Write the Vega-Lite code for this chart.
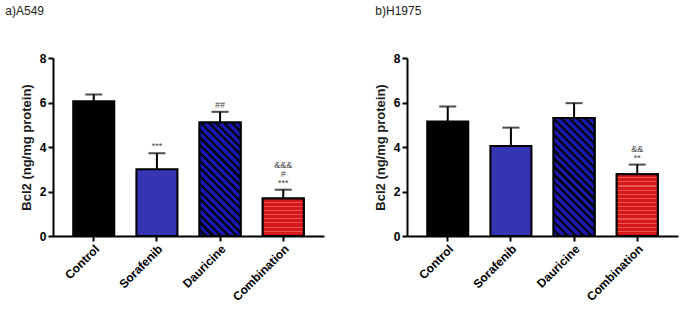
{
  "$schema": "https://vega.github.io/schema/vega-lite/v6.json",
  "background": "white",
  "padding": 5,
  "spacing": 50,
  "config": {
    "view": {"stroke": null},
    "font": "Liberation Sans",
    "axis": {
      "domainColor": "black",
      "domainWidth": 2,
      "tickColor": "black",
      "tickWidth": 2,
      "tickSize": 5,
      "labelPadding": 2,
      "labelColor": "black",
      "labelFont": "Liberation Sans",
      "labelFontWeight": "bold",
      "titleFont": "Liberation Sans",
      "titleFontWeight": "bold",
      "titleColor": "#1a1a1a",
      "titleFontSize": 13,
      "grid": false
    }
  },
  "datasets": {
    "a549": [
      {"group": "Control", "value": 6.06, "upper": 6.36, "s1": "", "s2": "", "s3": ""},
      {"group": "Sorafenib", "value": 3.0, "upper": 3.72, "s1": "***", "s2": "", "s3": ""},
      {"group": "Dauricine", "value": 5.1, "upper": 5.58, "s1": "##", "s2": "", "s3": ""},
      {"group": "Combination", "value": 1.69, "upper": 2.08, "s1": "***", "s2": "#", "s3": "&&&"}
    ],
    "h1975": [
      {"group": "Control", "value": 5.15, "upper": 5.82, "s1": "", "s2": "", "s3": ""},
      {"group": "Sorafenib", "value": 4.04, "upper": 4.87, "s1": "", "s2": "", "s3": ""},
      {"group": "Dauricine", "value": 5.3, "upper": 5.97, "s1": "", "s2": "", "s3": ""},
      {"group": "Combination", "value": 2.78, "upper": 3.21, "s1": "**", "s2": "&&", "s3": ""}
    ]
  },
  "hconcat": [
    {
      "title": {"text": "a)A549", "anchor": "start", "frame": "bounds", "fontSize": 12, "fontWeight": "normal", "font": "Liberation Sans", "color": "#222222", "dx": -15, "offset": 34},
      "width": 271,
      "height": 178,
      "data": {"name": "a549"},
      "encoding": {
        "x": {
          "field": "group", "type": "nominal", "sort": null,
          "scale": {"paddingInner": 0.35, "paddingOuter": 0.32},
          "axis": {"title": null, "labelAngle": -45, "labelFontSize": 12}
        }
      },
      "layer": [
        {
          "mark": {"type": "bar", "stroke": "black", "strokeWidth": 2},
          "encoding": {
            "y": {"field": "value", "type": "quantitative", "scale": {"domain": [0, 8]},
              "axis": {"title": "Bcl2 (ng/mg protein)", "values": [0, 2, 4, 6, 8], "labelFontSize": 12, "titlePadding": 6}},
            "fill": {"field": "group", "type": "nominal", "legend": null,
              "scale": {"domain": ["Control", "Sorafenib", "Dauricine", "Combination"], "range": ["#000000", "#3535b2", "#12127a", "#dc1a1a"]}}
          }
        },
        {
          "transform": [{"filter": "datum.group === 'Dauricine'"}],
          "mark": {"type": "bar", "stroke": "black", "strokeWidth": 2,
            "fill": {"gradient": "linear", "x1": 0, "y1": 1, "x2": 0.4357, "y2": -0.2042, "stops": [
              {"offset": 0, "color": "#1818ac"}, {"offset": 0.03, "color": "#1818ac"}, {"offset": 0.03, "color": "#04040f"}, {"offset": 0.05, "color": "#04040f"},
              {"offset": 0.05, "color": "#1818ac"}, {"offset": 0.08, "color": "#1818ac"}, {"offset": 0.08, "color": "#04040f"}, {"offset": 0.10, "color": "#04040f"},
              {"offset": 0.10, "color": "#1818ac"}, {"offset": 0.13, "color": "#1818ac"}, {"offset": 0.13, "color": "#04040f"}, {"offset": 0.15, "color": "#04040f"},
              {"offset": 0.15, "color": "#1818ac"}, {"offset": 0.18, "color": "#1818ac"}, {"offset": 0.18, "color": "#04040f"}, {"offset": 0.20, "color": "#04040f"},
              {"offset": 0.20, "color": "#1818ac"}, {"offset": 0.23, "color": "#1818ac"}, {"offset": 0.23, "color": "#04040f"}, {"offset": 0.25, "color": "#04040f"},
              {"offset": 0.25, "color": "#1818ac"}, {"offset": 0.28, "color": "#1818ac"}, {"offset": 0.28, "color": "#04040f"}, {"offset": 0.30, "color": "#04040f"},
              {"offset": 0.30, "color": "#1818ac"}, {"offset": 0.33, "color": "#1818ac"}, {"offset": 0.33, "color": "#04040f"}, {"offset": 0.35, "color": "#04040f"},
              {"offset": 0.35, "color": "#1818ac"}, {"offset": 0.38, "color": "#1818ac"}, {"offset": 0.38, "color": "#04040f"}, {"offset": 0.40, "color": "#04040f"},
              {"offset": 0.40, "color": "#1818ac"}, {"offset": 0.43, "color": "#1818ac"}, {"offset": 0.43, "color": "#04040f"}, {"offset": 0.45, "color": "#04040f"},
              {"offset": 0.45, "color": "#1818ac"}, {"offset": 0.48, "color": "#1818ac"}, {"offset": 0.48, "color": "#04040f"}, {"offset": 0.50, "color": "#04040f"},
              {"offset": 0.50, "color": "#1818ac"}, {"offset": 0.53, "color": "#1818ac"}, {"offset": 0.53, "color": "#04040f"}, {"offset": 0.55, "color": "#04040f"},
              {"offset": 0.55, "color": "#1818ac"}, {"offset": 0.58, "color": "#1818ac"}, {"offset": 0.58, "color": "#04040f"}, {"offset": 0.60, "color": "#04040f"},
              {"offset": 0.60, "color": "#1818ac"}, {"offset": 0.63, "color": "#1818ac"}, {"offset": 0.63, "color": "#04040f"}, {"offset": 0.65, "color": "#04040f"},
              {"offset": 0.65, "color": "#1818ac"}, {"offset": 0.68, "color": "#1818ac"}, {"offset": 0.68, "color": "#04040f"}, {"offset": 0.70, "color": "#04040f"},
              {"offset": 0.70, "color": "#1818ac"}, {"offset": 0.73, "color": "#1818ac"}, {"offset": 0.73, "color": "#04040f"}, {"offset": 0.75, "color": "#04040f"},
              {"offset": 0.75, "color": "#1818ac"}, {"offset": 0.78, "color": "#1818ac"}, {"offset": 0.78, "color": "#04040f"}, {"offset": 0.80, "color": "#04040f"},
              {"offset": 0.80, "color": "#1818ac"}, {"offset": 0.83, "color": "#1818ac"}, {"offset": 0.83, "color": "#04040f"}, {"offset": 0.85, "color": "#04040f"},
              {"offset": 0.85, "color": "#1818ac"}, {"offset": 0.88, "color": "#1818ac"}, {"offset": 0.88, "color": "#04040f"}, {"offset": 0.90, "color": "#04040f"},
              {"offset": 0.90, "color": "#1818ac"}, {"offset": 0.93, "color": "#1818ac"}, {"offset": 0.93, "color": "#04040f"}, {"offset": 0.95, "color": "#04040f"},
              {"offset": 0.95, "color": "#1818ac"}, {"offset": 0.98, "color": "#1818ac"}, {"offset": 0.98, "color": "#04040f"}, {"offset": 1, "color": "#04040f"}
            ]}},
          "encoding": {"y": {"field": "value", "type": "quantitative", "title": "Bcl2 (ng/mg protein)"}}
        },
        {
          "transform": [{"filter": "datum.group === 'Combination'"}],
          "mark": {"type": "bar", "stroke": "black", "strokeWidth": 2,
            "fill": {"gradient": "linear", "x1": 0, "y1": 0, "x2": 0, "y2": 1, "stops": [
              {"offset": 0, "color": "#d81818"}, {"offset": 0.0833, "color": "#d81818"}, {"offset": 0.0833, "color": "#e85454"}, {"offset": 0.1111, "color": "#e85454"},
              {"offset": 0.1111, "color": "#d81818"}, {"offset": 0.1944, "color": "#d81818"}, {"offset": 0.1944, "color": "#e85454"}, {"offset": 0.2222, "color": "#e85454"},
              {"offset": 0.2222, "color": "#d81818"}, {"offset": 0.3056, "color": "#d81818"}, {"offset": 0.3056, "color": "#e85454"}, {"offset": 0.3333, "color": "#e85454"},
              {"offset": 0.3333, "color": "#d81818"}, {"offset": 0.4167, "color": "#d81818"}, {"offset": 0.4167, "color": "#e85454"}, {"offset": 0.4444, "color": "#e85454"},
              {"offset": 0.4444, "color": "#d81818"}, {"offset": 0.5278, "color": "#d81818"}, {"offset": 0.5278, "color": "#e85454"}, {"offset": 0.5556, "color": "#e85454"},
              {"offset": 0.5556, "color": "#d81818"}, {"offset": 0.6389, "color": "#d81818"}, {"offset": 0.6389, "color": "#e85454"}, {"offset": 0.6667, "color": "#e85454"},
              {"offset": 0.6667, "color": "#d81818"}, {"offset": 0.75, "color": "#d81818"}, {"offset": 0.75, "color": "#e85454"}, {"offset": 0.7778, "color": "#e85454"},
              {"offset": 0.7778, "color": "#d81818"}, {"offset": 0.8611, "color": "#d81818"}, {"offset": 0.8611, "color": "#e85454"}, {"offset": 0.8889, "color": "#e85454"},
              {"offset": 0.8889, "color": "#d81818"}, {"offset": 0.9722, "color": "#d81818"}, {"offset": 0.9722, "color": "#e85454"}, {"offset": 1, "color": "#e85454"}
            ]}},
          "encoding": {"y": {"field": "value", "type": "quantitative", "title": "Bcl2 (ng/mg protein)"}}
        },
        {
          "mark": {"type": "rule", "strokeWidth": 2, "color": "black"},
          "encoding": {"y": {"field": "value", "type": "quantitative", "title": "Bcl2 (ng/mg protein)"}, "y2": {"field": "upper"}}
        },
        {
          "mark": {"type": "tick", "orient": "horizontal", "size": 17, "thickness": 2, "color": "black"},
          "encoding": {"y": {"field": "upper", "type": "quantitative", "title": "Bcl2 (ng/mg protein)"}}
        },
        {
          "mark": {"type": "text", "baseline": "bottom", "dy": -2, "fontSize": 9, "color": "#444444", "font": "Liberation Sans"},
          "encoding": {"y": {"field": "upper", "type": "quantitative", "title": "Bcl2 (ng/mg protein)"}, "text": {"field": "s1"}}
        },
        {
          "mark": {"type": "text", "baseline": "bottom", "dy": -11, "fontSize": 9, "color": "#444444", "font": "Liberation Sans"},
          "encoding": {"y": {"field": "upper", "type": "quantitative", "title": "Bcl2 (ng/mg protein)"}, "text": {"field": "s2"}}
        },
        {
          "mark": {"type": "text", "baseline": "bottom", "dy": -20, "fontSize": 9, "color": "#444444", "font": "Liberation Sans"},
          "encoding": {"y": {"field": "upper", "type": "quantitative", "title": "Bcl2 (ng/mg protein)"}, "text": {"field": "s3"}}
        }
      ]
    },
    {
      "title": {"text": "b)H1975", "anchor": "start", "frame": "bounds", "fontSize": 12, "fontWeight": "normal", "font": "Liberation Sans", "color": "#222222", "dx": 1, "offset": 34},
      "width": 271,
      "height": 178,
      "data": {"name": "h1975"},
      "encoding": {
        "x": {
          "field": "group", "type": "nominal", "sort": null,
          "scale": {"paddingInner": 0.35, "paddingOuter": 0.32},
          "axis": {"title": null, "labelAngle": -45, "labelFontSize": 12}
        }
      },
      "layer": [
        {
          "mark": {"type": "bar", "stroke": "black", "strokeWidth": 2},
          "encoding": {
            "y": {"field": "value", "type": "quantitative", "scale": {"domain": [0, 8]},
              "axis": {"title": "Bcl2 (ng/mg protein)", "values": [0, 2, 4, 6, 8], "labelFontSize": 12, "titlePadding": 6}},
            "fill": {"field": "group", "type": "nominal", "legend": null,
              "scale": {"domain": ["Control", "Sorafenib", "Dauricine", "Combination"], "range": ["#000000", "#3535b2", "#12127a", "#dc1a1a"]}}
          }
        },
        {
          "transform": [{"filter": "datum.group === 'Dauricine'"}],
          "mark": {"type": "bar", "stroke": "black", "strokeWidth": 2,
            "fill": {"gradient": "linear", "x1": 0, "y1": 1, "x2": 0.4188, "y2": -0.2024, "stops": [
              {"offset": 0, "color": "#1818ac"}, {"offset": 0.03, "color": "#1818ac"}, {"offset": 0.03, "color": "#04040f"}, {"offset": 0.05, "color": "#04040f"},
              {"offset": 0.05, "color": "#1818ac"}, {"offset": 0.08, "color": "#1818ac"}, {"offset": 0.08, "color": "#04040f"}, {"offset": 0.10, "color": "#04040f"},
              {"offset": 0.10, "color": "#1818ac"}, {"offset": 0.13, "color": "#1818ac"}, {"offset": 0.13, "color": "#04040f"}, {"offset": 0.15, "color": "#04040f"},
              {"offset": 0.15, "color": "#1818ac"}, {"offset": 0.18, "color": "#1818ac"}, {"offset": 0.18, "color": "#04040f"}, {"offset": 0.20, "color": "#04040f"},
              {"offset": 0.20, "color": "#1818ac"}, {"offset": 0.23, "color": "#1818ac"}, {"offset": 0.23, "color": "#04040f"}, {"offset": 0.25, "color": "#04040f"},
              {"offset": 0.25, "color": "#1818ac"}, {"offset": 0.28, "color": "#1818ac"}, {"offset": 0.28, "color": "#04040f"}, {"offset": 0.30, "color": "#04040f"},
              {"offset": 0.30, "color": "#1818ac"}, {"offset": 0.33, "color": "#1818ac"}, {"offset": 0.33, "color": "#04040f"}, {"offset": 0.35, "color": "#04040f"},
              {"offset": 0.35, "color": "#1818ac"}, {"offset": 0.38, "color": "#1818ac"}, {"offset": 0.38, "color": "#04040f"}, {"offset": 0.40, "color": "#04040f"},
              {"offset": 0.40, "color": "#1818ac"}, {"offset": 0.43, "color": "#1818ac"}, {"offset": 0.43, "color": "#04040f"}, {"offset": 0.45, "color": "#04040f"},
              {"offset": 0.45, "color": "#1818ac"}, {"offset": 0.48, "color": "#1818ac"}, {"offset": 0.48, "color": "#04040f"}, {"offset": 0.50, "color": "#04040f"},
              {"offset": 0.50, "color": "#1818ac"}, {"offset": 0.53, "color": "#1818ac"}, {"offset": 0.53, "color": "#04040f"}, {"offset": 0.55, "color": "#04040f"},
              {"offset": 0.55, "color": "#1818ac"}, {"offset": 0.58, "color": "#1818ac"}, {"offset": 0.58, "color": "#04040f"}, {"offset": 0.60, "color": "#04040f"},
              {"offset": 0.60, "color": "#1818ac"}, {"offset": 0.63, "color": "#1818ac"}, {"offset": 0.63, "color": "#04040f"}, {"offset": 0.65, "color": "#04040f"},
              {"offset": 0.65, "color": "#1818ac"}, {"offset": 0.68, "color": "#1818ac"}, {"offset": 0.68, "color": "#04040f"}, {"offset": 0.70, "color": "#04040f"},
              {"offset": 0.70, "color": "#1818ac"}, {"offset": 0.73, "color": "#1818ac"}, {"offset": 0.73, "color": "#04040f"}, {"offset": 0.75, "color": "#04040f"},
              {"offset": 0.75, "color": "#1818ac"}, {"offset": 0.78, "color": "#1818ac"}, {"offset": 0.78, "color": "#04040f"}, {"offset": 0.80, "color": "#04040f"},
              {"offset": 0.80, "color": "#1818ac"}, {"offset": 0.83, "color": "#1818ac"}, {"offset": 0.83, "color": "#04040f"}, {"offset": 0.85, "color": "#04040f"},
              {"offset": 0.85, "color": "#1818ac"}, {"offset": 0.88, "color": "#1818ac"}, {"offset": 0.88, "color": "#04040f"}, {"offset": 0.90, "color": "#04040f"},
              {"offset": 0.90, "color": "#1818ac"}, {"offset": 0.93, "color": "#1818ac"}, {"offset": 0.93, "color": "#04040f"}, {"offset": 0.95, "color": "#04040f"},
              {"offset": 0.95, "color": "#1818ac"}, {"offset": 0.98, "color": "#1818ac"}, {"offset": 0.98, "color": "#04040f"}, {"offset": 1, "color": "#04040f"}
            ]}},
          "encoding": {"y": {"field": "value", "type": "quantitative", "title": "Bcl2 (ng/mg protein)"}}
        },
        {
          "transform": [{"filter": "datum.group === 'Combination'"}],
          "mark": {"type": "bar", "stroke": "black", "strokeWidth": 2,
            "fill": {"gradient": "linear", "x1": 0, "y1": 0, "x2": 0, "y2": 1, "stops": [
              {"offset": 0, "color": "#d81818"}, {"offset": 0.05, "color": "#d81818"}, {"offset": 0.05, "color": "#e85454"}, {"offset": 0.0667, "color": "#e85454"},
              {"offset": 0.0667, "color": "#d81818"}, {"offset": 0.1167, "color": "#d81818"}, {"offset": 0.1167, "color": "#e85454"}, {"offset": 0.1333, "color": "#e85454"},
              {"offset": 0.1333, "color": "#d81818"}, {"offset": 0.1833, "color": "#d81818"}, {"offset": 0.1833, "color": "#e85454"}, {"offset": 0.2, "color": "#e85454"},
              {"offset": 0.2, "color": "#d81818"}, {"offset": 0.25, "color": "#d81818"}, {"offset": 0.25, "color": "#e85454"}, {"offset": 0.2667, "color": "#e85454"},
              {"offset": 0.2667, "color": "#d81818"}, {"offset": 0.3167, "color": "#d81818"}, {"offset": 0.3167, "color": "#e85454"}, {"offset": 0.3333, "color": "#e85454"},
              {"offset": 0.3333, "color": "#d81818"}, {"offset": 0.3833, "color": "#d81818"}, {"offset": 0.3833, "color": "#e85454"}, {"offset": 0.4, "color": "#e85454"},
              {"offset": 0.4, "color": "#d81818"}, {"offset": 0.45, "color": "#d81818"}, {"offset": 0.45, "color": "#e85454"}, {"offset": 0.4667, "color": "#e85454"},
              {"offset": 0.4667, "color": "#d81818"}, {"offset": 0.5167, "color": "#d81818"}, {"offset": 0.5167, "color": "#e85454"}, {"offset": 0.5333, "color": "#e85454"},
              {"offset": 0.5333, "color": "#d81818"}, {"offset": 0.5833, "color": "#d81818"}, {"offset": 0.5833, "color": "#e85454"}, {"offset": 0.6, "color": "#e85454"},
              {"offset": 0.6, "color": "#d81818"}, {"offset": 0.65, "color": "#d81818"}, {"offset": 0.65, "color": "#e85454"}, {"offset": 0.6667, "color": "#e85454"},
              {"offset": 0.6667, "color": "#d81818"}, {"offset": 0.7167, "color": "#d81818"}, {"offset": 0.7167, "color": "#e85454"}, {"offset": 0.7333, "color": "#e85454"},
              {"offset": 0.7333, "color": "#d81818"}, {"offset": 0.7833, "color": "#d81818"}, {"offset": 0.7833, "color": "#e85454"}, {"offset": 0.8, "color": "#e85454"},
              {"offset": 0.8, "color": "#d81818"}, {"offset": 0.85, "color": "#d81818"}, {"offset": 0.85, "color": "#e85454"}, {"offset": 0.8667, "color": "#e85454"},
              {"offset": 0.8667, "color": "#d81818"}, {"offset": 0.9167, "color": "#d81818"}, {"offset": 0.9167, "color": "#e85454"}, {"offset": 0.9333, "color": "#e85454"},
              {"offset": 0.9333, "color": "#d81818"}, {"offset": 0.9833, "color": "#d81818"}, {"offset": 0.9833, "color": "#e85454"}, {"offset": 1, "color": "#e85454"}
            ]}},
          "encoding": {"y": {"field": "value", "type": "quantitative", "title": "Bcl2 (ng/mg protein)"}}
        },
        {
          "mark": {"type": "rule", "strokeWidth": 2, "color": "black"},
          "encoding": {"y": {"field": "value", "type": "quantitative", "title": "Bcl2 (ng/mg protein)"}, "y2": {"field": "upper"}}
        },
        {
          "mark": {"type": "tick", "orient": "horizontal", "size": 17, "thickness": 2, "color": "black"},
          "encoding": {"y": {"field": "upper", "type": "quantitative", "title": "Bcl2 (ng/mg protein)"}}
        },
        {
          "mark": {"type": "text", "baseline": "bottom", "dy": -2, "fontSize": 9, "color": "#444444", "font": "Liberation Sans"},
          "encoding": {"y": {"field": "upper", "type": "quantitative", "title": "Bcl2 (ng/mg protein)"}, "text": {"field": "s1"}}
        },
        {
          "mark": {"type": "text", "baseline": "bottom", "dy": -11, "fontSize": 9, "color": "#444444", "font": "Liberation Sans"},
          "encoding": {"y": {"field": "upper", "type": "quantitative", "title": "Bcl2 (ng/mg protein)"}, "text": {"field": "s2"}}
        }
      ]
    }
  ]
}
